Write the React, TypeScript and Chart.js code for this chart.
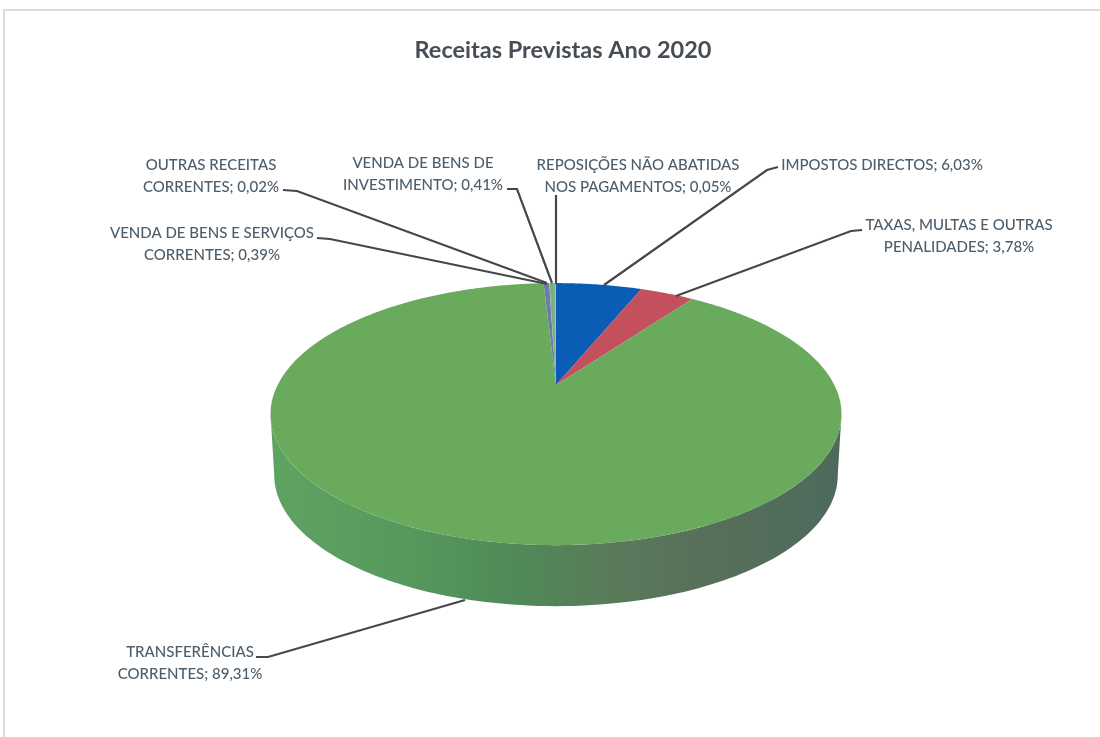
import React, { useEffect, useRef } from "react";
import { Chart, ArcElement, registerables } from "chart.js";

Chart.register(...registerables);

const categories = [
  "IMPOSTOS DIRECTOS",
  "TAXAS, MULTAS E OUTRAS PENALIDADES",
  "TRANSFERÊNCIAS CORRENTES",
  "VENDA DE BENS E SERVIÇOS CORRENTES",
  "OUTRAS RECEITAS CORRENTES",
  "VENDA DE BENS DE INVESTIMENTO",
  "REPOSIÇÕES NÃO ABATIDAS NOS PAGAMENTOS",
];
const values = [6.03, 3.78, 89.31, 0.39, 0.02, 0.41, 0.05];
const sliceColors = ["#0a5cb4", "#c4505e", "#6aaa5d", "#6a7fa8", "#5f9fb0", "#7fae88", "#8fb898"];
const labelLines = [
  ["IMPOSTOS DIRECTOS; 6,03%"],
  ["TAXAS, MULTAS E OUTRAS", "PENALIDADES; 3,78%"],
  ["TRANSFERÊNCIAS", "CORRENTES; 89,31%"],
  ["VENDA DE BENS E SERVIÇOS", "CORRENTES; 0,39%"],
  ["OUTRAS RECEITAS", "CORRENTES; 0,02%"],
  ["VENDA DE BENS DE", "INVESTIMENTO; 0,41%"],
  ["REPOSIÇÕES NÃO ABATIDAS", "NOS PAGAMENTOS; 0,05%"],
];
const labelCentres = [[882, 165], [959, 225], [190, 652], [212, 233], [211, 165], [423, 163], [638, 165]];
const leaders = [
  [[778, 167], [767, 170], [604, 285]],
  [[862, 230], [851, 231], [676, 296]],
  [[256, 657], [268, 657], [465, 600]],
  [[317, 238], [330, 239], [547, 284]],
  [[283, 190], [297, 191], [547, 283]],
  [[507, 189], [517, 189], [552, 283]],
  [[556, 195], [556, 284]],
];

// Perspective mapping of the unit disc: a flat circle seen from the front
const K_Y = 124.6;
const K_X = 278.4;
const K_W = -0.2214;
const DEPTH = 61;
const BASE_SCALE = 0.987;
const CENTRE_DX = -7;
const TANGENT = 0.2233;

function project(cx: number, cy: number, a: number) {
  const u = Math.cos(a);
  const v = Math.sin(a);
  const w = K_W * v + 1;
  return [cx + (K_X * u) / w, cy + (K_Y * v) / w];
}

ArcElement.prototype.draw = function (this: any, ctx: CanvasRenderingContext2D) {
  const cx = this.x + CENTRE_DX;
  const cy = this.y;
  const start = this.startAngle;
  const end = this.endAngle;
  const steps = Math.max(2, Math.ceil((end - start) * 90));

  // side wall
  let a0 = start;
  let a1 = end;
  while (a1 - 2 * Math.PI > TANGENT) { a0 -= 2 * Math.PI; a1 -= 2 * Math.PI; }
  const fs = Math.max(a0, TANGENT);
  const fe = Math.min(a1, Math.PI - TANGENT);
  if (fe > fs) {
    const g = ctx.createLinearGradient(cx - 285, 0, cx + 285, 0);
    g.addColorStop(0, "#5fa362");
    g.addColorStop(0.25, "#56985c");
    g.addColorStop(0.42, "#4f8a58");
    g.addColorStop(0.6, "#5a7a5a");
    g.addColorStop(0.75, "#58705a");
    g.addColorStop(1, "#4d6a5c");
    ctx.beginPath();
    for (let i = 0; i <= 120; i++) {
      const p = project(cx, cy, fs + ((fe - fs) * i) / 120);
      if (i === 0) ctx.moveTo(p[0], p[1]);
      else ctx.lineTo(p[0], p[1]);
    }
    for (let i = 120; i >= 0; i--) {
      const p = project(cx, cy, fs + ((fe - fs) * i) / 120);
      ctx.lineTo(cx + (p[0] - cx) * BASE_SCALE, p[1] + DEPTH);
    }
    ctx.closePath();
    ctx.fillStyle = g;
    ctx.fill();
  }

  // top face
  ctx.beginPath();
  ctx.moveTo(cx, cy);
  for (let i = 0; i <= steps; i++) {
    const p = project(cx, cy, start + ((end - start) * i) / steps);
    ctx.lineTo(p[0], p[1]);
  }
  ctx.closePath();
  ctx.fillStyle = this.options.backgroundColor;
  ctx.fill();
};

const calloutPlugin = {
  id: "callouts",
  afterDraw(chart: any) {
    const ctx: CanvasRenderingContext2D = chart.ctx;
    ctx.save();
    // scanned page frame
    ctx.strokeStyle = "#cfd1d6";
    ctx.lineWidth = 1.5;
    ctx.beginPath();
    ctx.moveTo(4, 737);
    ctx.lineTo(4, 10);
    ctx.lineTo(1100, 10);
    ctx.stroke();
    // leader lines
    ctx.strokeStyle = "#44474b";
    ctx.lineWidth = 2.2;
    leaders.forEach((pts) => {
      ctx.beginPath();
      pts.forEach((p, i) => (i === 0 ? ctx.moveTo(p[0], p[1]) : ctx.lineTo(p[0], p[1])));
      ctx.stroke();
    });
    // labels
    ctx.font = "500 15px Lato";
    ctx.fillStyle = "#4d5d6a";
    ctx.textAlign = "center";
    ctx.textBaseline = "middle";
    labelLines.forEach((lines, i) => {
      lines.forEach((line, j) => {
        ctx.fillText(line, labelCentres[i][0], labelCentres[i][1] + j * 22.5);
      });
    });
    ctx.restore();
  },
};

export default function App() {
  const ref = useRef<HTMLCanvasElement>(null);
  useEffect(() => {
    const chart = new Chart(ref.current as HTMLCanvasElement, {
      type: "pie",
      data: {
        labels: categories,
        datasets: [{ data: values, backgroundColor: sliceColors, borderWidth: 0 }],
      },
      options: {
        responsive: false,
        devicePixelRatio: 1,
        animation: false,
        layout: { padding: { left: 26, right: 0, top: 0, bottom: 67 } },
        plugins: {
          legend: { display: false },
          tooltip: { enabled: false },
          title: {
            display: true,
            text: "Receitas Previstas Ano 2020",
            color: "#474d55",
            font: { family: "Lato", size: 23.5, weight: "bold" },
            padding: { top: 36, bottom: 36 },
          },
        },
      },
      plugins: [calloutPlugin],
    } as any);
    return () => chart.destroy();
  }, []);
  return (
    <canvas
      ref={ref}
      width={1100}
      height={737}
      style={{ position: "absolute", left: 0, top: 0, width: 1100, height: 737, background: "#ffffff" }}
    />
  );
}
